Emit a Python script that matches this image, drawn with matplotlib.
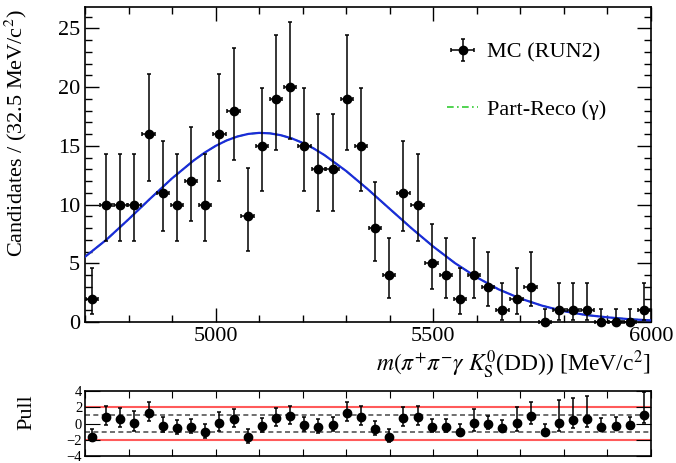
import math
import numpy as np
import matplotlib
matplotlib.use("Agg")
import matplotlib.pyplot as plt
from matplotlib.lines import Line2D

plt.rcParams['font.family'] = ['Liberation Serif', 'DejaVu Serif']
plt.rcParams['mathtext.fontset'] = 'stix'

# binning: 40 bins of 32.5 MeV between 4700 and 6000
x_lo, x_hi, n_bins = 4700.0, 6000.0, 40
counts = [2, 10, 10, 10, 16, 11, 10, 12, 10, 16,
          18, 9, 15, 19, 20, 15, 13, 13, 19, 15,
          8, 4, 11, 10, 5, 4, 2, 4, 3, 1,
          2, 3, 0, 1, 1, 1, 0, 0, 0, 1]
pulls = [-1.64, 0.86, 0.57, 0.12, 1.35, -0.25, -0.61, -0.41, -1.07, 0.12,
         0.57, -1.72, -0.33, 0.66, 0.94, -0.16, -0.41, -0.16, 1.35, 0.82,
         -0.70, -1.72, 0.74, 0.82, -0.41, -0.49, -1.02, 0.12, -0.08, -0.61,
         0.04, 0.90, -1.02, 0.08, 0.41, 0.61, -0.37, -0.25, -0.16, 1.07]

# fitted pdf
curve_x = [4700, 4750, 4800, 4850, 4900, 4950, 4975, 5000, 5025, 5050,
           5075, 5100, 5125, 5150, 5175, 5200, 5225, 5250, 5300, 5350,
           5400, 5450, 5500, 5550, 5600, 5650, 5700, 5750, 5800, 5850,
           5900, 5950, 6000]
curve_y = [5.55, 7.03, 8.74, 10.51, 12.23, 13.76, 14.42, 14.99, 15.45, 15.79,
           16.01, 16.1, 16.06, 15.90, 15.63, 15.25, 14.78, 14.21, 12.85, 11.29,
           9.63, 7.98, 6.42, 5.01, 3.80, 2.78, 2.0, 1.39, 0.92, 0.60,
           0.40, 0.24, 0.14]


def pois_cdf(k, mu):
    if k < 0:
        return 0.0
    term = math.exp(-mu)
    s = term
    for i in range(1, k + 1):
        term *= mu / i
        s += term
    return s


def solve(f, target, a, b):
    # f decreasing in mu
    for _ in range(80):
        m = 0.5 * (a + b)
        if f(m) > target:
            a = m
        else:
            b = m
    return 0.5 * (a + b)


def poisson_interval(n):
    if n == 0:
        return 0.0, -math.log(1 - math.erf(1 / math.sqrt(2)))
    alpha = 0.5 * (1 - math.erf(1 / math.sqrt(2)))
    lo = solve(lambda m: pois_cdf(n - 1, m), 1 - alpha, 0.0, n + 50.0)
    hi = solve(lambda m: pois_cdf(n, m), alpha, 0.0, n + 50.0)
    return lo, hi


width = (x_hi - x_lo) / n_bins
centers = x_lo + width * (np.arange(n_bins) + 0.5)
counts = np.array(counts, dtype=float)
intervals = [poisson_interval(int(n)) for n in counts]
err_lo = np.array([n - lo for n, (lo, hi) in zip(counts, intervals)])
err_hi = np.array([hi - n for n, (lo, hi) in zip(counts, intervals)])

# pull error bars, normalised by the error used in the pull
pulls = np.array(pulls)
p_lo, p_hi = [], []
for p, el, eh in zip(pulls, err_lo, err_hi):
    d = el if p > 0 else eh
    p_lo.append(el / d)
    p_hi.append(eh / d)

fig = plt.figure(figsize=(6.76, 4.63), dpi=100)
ax = fig.add_axes([0.1257, 0.3045, 0.8373, 0.680])
axp = fig.add_axes([0.1257, 0.0155, 0.8373, 0.1395])

green_ls = (0, (4, 2, 1, 2))
ax.plot(curve_x, curve_y, color='#33cc33', lw=1.2, ls=green_ls, zorder=2)
ax.plot(curve_x, curve_y, color='#1a2bd9', lw=1.6, zorder=3)
eb = ax.errorbar(centers, counts, xerr=0.44 * width, yerr=[err_lo, err_hi],
                 fmt='o', color='black', ms=6, elinewidth=1.1, capsize=1.5,
                 capthick=1.1, zorder=4, clip_on=False)

ax.set_xlim(x_lo, x_hi)
ax.set_ylim(0, 26.8)
ax.set_xticks([5000, 5500, 6000])
ax.set_xticks(np.arange(4700, 6001, 100), minor=True)
ax.set_yticks([0, 5, 10, 15, 20, 25])
ax.set_yticks(np.arange(0, 27, 1), minor=True)
ax.tick_params(which='both', direction='in', top=True, right=True, labelsize=16)
ax.tick_params(which='major', length=10, width=1)
ax.tick_params(which='minor', length=5, width=1)
ax.set_ylabel('Candidates / (32.5 MeV/c$^{2}$)', fontsize=16)
ax.yaxis.set_label_coords(-0.099, 0.6)
ax.set_xlabel(r'$m(\pi^{+}\pi^{-}\gamma\ K^{0}_{\rm S}$(DD)) [MeV/c$^{2}$]',
              fontsize=17, loc='right', labelpad=2)
for s in ax.spines.values():
    s.set_linewidth(1.2)

handles = [eb, Line2D([], [], color='#33cc33', lw=1.2, ls=green_ls)]
ax.legend(handles, ['MC (RUN2)', 'Part-Reco (\u03b3)'], loc='upper left',
          bbox_to_anchor=(0.62, 0.925), frameon=False, fontsize=16,
          labelspacing=1.65, handlelength=1.4, handletextpad=0.4, borderpad=0)

# pull panel
axp.axhline(2, color='#ff5a5a', lw=1.5, zorder=1)
axp.axhline(-2, color='#ff5a5a', lw=1.5, zorder=1)
axp.axhline(1, color='#555555', lw=1.2, ls=(0, (3, 2)), zorder=1)
axp.axhline(-1, color='#555555', lw=1.2, ls=(0, (3, 2)), zorder=1)
axp.errorbar(centers, pulls, yerr=[p_lo, p_hi], fmt='o', color='black', ms=6,
             elinewidth=1.1, capsize=1.5, capthick=1.1, zorder=3)
axp.set_xlim(x_lo, x_hi)
axp.set_ylim(-4, 4)
axp.set_xticks(np.arange(4700, 6001, 100))
axp.set_xticklabels([])
axp.set_yticks([-4, -2, 0, 2, 4])
axp.set_yticklabels(['\u22124', '\u22122', '0', '2', '4'])
axp.tick_params(which='both', direction='in', top=True, right=True, labelsize=10.5,
                pad=2)
axp.tick_params(axis='x', length=5)
axp.tick_params(axis='y', length=11)
axp.set_ylabel('Pull', fontsize=16)
axp.yaxis.set_label_coords(-0.086, 0.68)
for s in axp.spines.values():
    s.set_linewidth(1.2)

fig.savefig('out.png', dpi=100)
